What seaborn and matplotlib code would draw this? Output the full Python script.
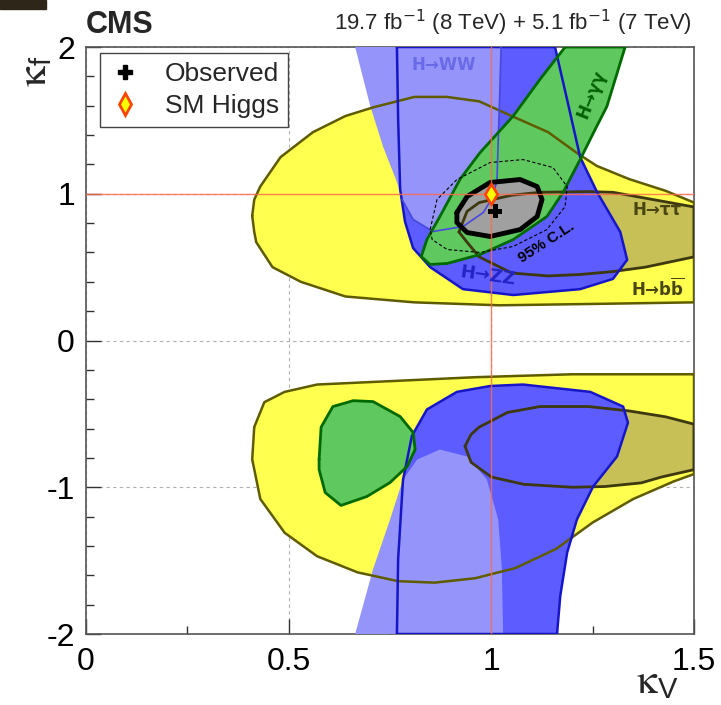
import numpy as np
import matplotlib
matplotlib.use("Agg")
import matplotlib.pyplot as plt
import seaborn as sns
from matplotlib.lines import Line2D
from matplotlib.patches import Rectangle
from matplotlib.ticker import MultipleLocator

# 68% CL regions per channel, (kappa_V, kappa_f) vertices
bb_up_kv = [0.41, 0.415, 0.42, 0.46, 0.53, 0.64, 0.81, 1.02, 1.27, 1.50, 1.50, 1.43, 1.34,
            1.26, 1.21, 1.14, 1.05, 0.97, 0.89, 0.81, 0.71, 0.64, 0.56, 0.48, 0.43, 0.415]
bb_up_kf = [0.85, 0.74, 0.67, 0.50, 0.40, 0.30, 0.26, 0.24, 0.25, 0.26, 0.94, 1.02, 1.10,
            1.19, 1.28, 1.42, 1.53, 1.63, 1.66, 1.66, 1.59, 1.53, 1.42, 1.25, 1.05, 0.96]
bb_dn_kv = [1.50, 1.20, 0.96, 0.57, 0.49, 0.44, 0.415, 0.41, 0.43, 0.49, 0.57, 0.67,
            0.77, 0.86, 0.96, 1.06, 1.16, 1.25, 1.35, 1.45, 1.50]
bb_dn_kf = [-0.23, -0.23, -0.25, -0.30, -0.35, -0.42, -0.59, -0.81, -1.08, -1.31, -1.47,
            -1.58, -1.64, -1.65, -1.62, -1.55, -1.42, -1.24, -1.08, -0.96, -0.91]

tt_up_kv = [0.92, 0.94, 0.97, 1.05, 1.12, 1.24, 1.30, 1.38, 1.50, 1.50, 1.38, 1.30,
            1.22, 1.14, 1.05, 0.97, 0.94]
tt_up_kf = [0.74, 0.88, 0.94, 0.99, 1.01, 1.015, 1.01, 0.97, 0.91, 0.57, 0.50, 0.47,
            0.45, 0.44, 0.46, 0.57, 0.67]
tt_dn_kv = [0.935, 0.95, 0.97, 1.04, 1.12, 1.24, 1.34, 1.43, 1.50, 1.50, 1.42, 1.37,
            1.28, 1.20, 1.08, 1.00, 0.95]
tt_dn_kf = [-0.72, -0.64, -0.59, -0.49, -0.45, -0.45, -0.48, -0.52, -0.57, -0.88, -0.93,
            -0.97, -0.995, -1.00, -0.98, -0.93, -0.83]

zz_up_kv = [0.767, 0.77, 0.775, 0.787, 0.807, 0.849, 0.93, 1.054, 1.219, 1.30, 1.335,
            1.318, 1.261, 1.219, 1.187, 1.157]
zz_up_kf = [2.0, 1.51, 1.03, 0.81, 0.63, 0.50, 0.35, 0.31, 0.35, 0.42, 0.55, 0.74,
            1.01, 1.25, 1.64, 2.0]
zz_dn_kv = [0.767, 0.77, 0.782, 0.804, 0.841, 0.915, 0.997, 1.078, 1.244, 1.325, 1.337,
            1.31, 1.251, 1.211, 1.187, 1.17, 1.162]
zz_dn_kf = [-2.0, -1.49, -0.95, -0.65, -0.47, -0.35, -0.31, -0.30, -0.35, -0.45, -0.56,
            -0.79, -0.995, -1.22, -1.445, -1.74, -2.0]

ww_up_kv = [0.664, 0.701, 0.733, 0.767, 0.78, 0.807, 0.856, 0.93, 0.98, 1.004, 1.014,
            1.017, 1.021, 1.024]
ww_up_kf = [2.0, 1.60, 1.32, 1.08, 0.96, 0.825, 0.743, 0.777, 0.872, 0.98, 1.10, 1.37,
            1.71, 2.0]
ww_dn_kv = [0.664, 0.708, 0.75, 0.782, 0.817, 0.873, 0.94, 0.989, 1.017, 1.026, 1.029]
ww_dn_kf = [-2.0, -1.56, -1.22, -0.947, -0.811, -0.743, -0.79, -0.947, -1.22, -1.56, -2.0]

gg_up_kv = [1.182, 1.12, 1.054, 0.972, 0.923, 0.873, 0.841, 0.827, 0.849, 0.891, 0.972,
            1.054, 1.137, 1.177, 1.219, 1.256, 1.285, 1.33]
gg_up_kf = [2.0, 1.78, 1.53, 1.28, 1.10, 0.845, 0.688, 0.572, 0.518, 0.525, 0.586,
            0.688, 0.845, 1.01, 1.233, 1.438, 1.595, 2.0]
gg_dn_kv = [0.575, 0.58, 0.609, 0.659, 0.708, 0.775, 0.807, 0.812, 0.792, 0.75, 0.693,
            0.629, 0.59, 0.575]
gg_dn_kf = [-0.81, -0.59, -0.45, -0.41, -0.416, -0.518, -0.627, -0.743, -0.859, -0.968,
            -1.063, -1.124, -1.036, -0.879]

# combined fit
comb68_kv = [0.915, 0.94, 0.997, 1.071, 1.113, 1.125, 1.113, 1.071, 0.997, 0.94, 0.915]
comb68_kf = [0.872, 0.981, 1.077, 1.097, 1.049, 0.961, 0.845, 0.756, 0.709, 0.736, 0.804]
comb95_kv = [0.849, 0.866, 0.915, 0.997, 1.078, 1.152, 1.187, 1.182, 1.137, 1.054, 0.972,
             0.891, 0.854]
comb95_kf = [0.756, 0.961, 1.097, 1.213, 1.233, 1.179, 1.049, 0.913, 0.756, 0.641, 0.60,
             0.62, 0.688]

obs_kv, obs_kf = [1.01], [0.88]
sm_kv, sm_kf = [1.0], [1.0]

sns.set_style("ticks")
plt.rcParams["font.family"] = ["Liberation Sans", "DejaVu Sans"]
plt.rcParams["mathtext.fontset"] = "dejavusans"

fig, ax = plt.subplots(figsize=(7.21, 7.05), dpi=100)
fig.subplots_adjust(left=0.1193, right=0.9626, bottom=0.1007, top=0.9333)


def outline(kv, kf, color, lw, z, ls="-"):
    sns.lineplot(x=list(kv) + [kv[0]], y=list(kf) + [kf[0]], sort=False, estimator=None,
                 color=color, lw=lw, ls=ls, zorder=z, ax=ax)


yellow, olive_edge = "#ffff4f", "#5f5c00"
tt_fill, tt_edge = "#c6c056", "#3d3810"
zz_fill, zz_edge = "#5c5cff", "#1616c8"
ww_fill = "#9494fb"
gg_fill, gg_edge = "#5fc85f", "#006a00"

for kv, kf in [(bb_up_kv, bb_up_kf), (bb_dn_kv, bb_dn_kf)]:
    ax.fill(kv, kf, color=yellow, lw=0, zorder=1)
    outline(kv, kf, olive_edge, 1.8, 7)
for kv, kf in [(tt_up_kv, tt_up_kf), (tt_dn_kv, tt_dn_kf)]:
    ax.fill(kv, kf, color=tt_fill, lw=0, zorder=2)
    outline(kv, kf, tt_edge, 2.0, 7)
for kv, kf in [(zz_up_kv, zz_up_kf), (zz_dn_kv, zz_dn_kf)]:
    ax.fill(kv, kf, color=zz_fill, lw=0, zorder=3)
    outline(kv, kf, zz_edge, 1.8, 7)
for kv, kf in [(ww_up_kv, ww_up_kf), (ww_dn_kv, ww_dn_kf)]:
    ax.fill(kv, kf, color=ww_fill, lw=0, zorder=4)
# inner WW boundary is drawn as a thin line
sns.lineplot(x=ww_up_kv[4:], y=ww_up_kf[4:], sort=False, estimator=None,
             color="#4848e0", lw=1.2, zorder=7, ax=ax)
for kv, kf in [(gg_up_kv, gg_up_kf), (gg_dn_kv, gg_dn_kf)]:
    ax.fill(kv, kf, color=gg_fill, lw=0, zorder=5)
    outline(kv, kf, gg_edge, 2.0, 7)

ax.fill(comb68_kv, comb68_kf, color="#a0a0a0", lw=0, zorder=6)
outline(comb68_kv, comb68_kf, "black", 3.5, 8)
outline(comb95_kv, comb95_kf, "black", 0.8, 8, ls=(0, (3, 2)))

# SM reference lines
ax.axvline(sm_kv[0], color="#ff6a4a", lw=1.0, alpha=0.85, zorder=9)
ax.axhline(sm_kf[0], color="#ff6a4a", lw=1.0, alpha=0.85, zorder=9)

sns.scatterplot(x=obs_kv, y=obs_kf, marker="P", s=100, color="black", edgecolor="none",
                zorder=12, ax=ax)
sns.scatterplot(x=sm_kv, y=sm_kf, marker="d", s=110, color="#ffff00", edgecolor="#ff4400",
                linewidth=2, zorder=12, ax=ax)

# channel labels
lab = dict(family="DejaVu Sans", fontsize=12, fontweight="bold", ha="center",
           va="center", zorder=10)
ax.text(0.883, 1.88, "H→WW", color="#6a6ae6", **lab)
ax.text(1.248, 1.68, "H→γγ", color="#006000", rotation=68, **lab)
ax.text(1.41, 0.89, "H→ττ", color="#4a4612", **lab)
ax.text(1.41, 0.35, r"H→b$\mathbf{\overline{b}}$", color="#4a4612", **lab)
ax.text(0.99, 0.44, "H→ZZ", color="#2424c4", rotation=-8,
        **{**lab, "fontsize": 13})
ax.text(1.135, 0.67, "95% C.L.", color="black", fontsize=11, fontweight="bold",
        rotation=33, ha="center", va="center", zorder=10)

ax.set_xlim(0, 1.5)
ax.set_ylim(-2, 2)
ax.set_xticks([0, 0.5, 1, 1.5])
ax.set_xticklabels(["0", "0.5", "1", "1.5"])
ax.set_yticks([-2, -1, 0, 1, 2])
ax.set_yticklabels(["-2", "-1", "0", "1", "2"])
ax.xaxis.set_minor_locator(MultipleLocator(0.25))
ax.yaxis.set_minor_locator(MultipleLocator(0.2))
ax.tick_params(which="both", direction="in", top=False, right=False, colors="#333333",
               labelcolor="black", width=1)
ax.tick_params(which="major", length=11, labelsize=23)
ax.tick_params(which="minor", length=6)
ax.tick_params(axis="x", which="major", pad=9)
ax.tick_params(axis="y", which="major", pad=8)
ax.set_xlabel("")
ax.set_ylabel("")
ax.grid(True, which="major", ls=(0, (3, 3)), color="#b0b0b0", lw=0.8)
ax.set_axisbelow(True)
for sp in ax.spines.values():
    sp.set_color("#555555")
    sp.set_linewidth(1.2)

ax.text(0.975, -0.083, r"$\mathrm{\kappa}_{\mathregular{V}}$", transform=ax.transAxes,
        fontsize=30, math_fontfamily="stix", ha="right", va="center")
ax.text(-0.083, 0.985, r"$\mathrm{\kappa}_{\mathregular{f}}$", transform=ax.transAxes,
        fontsize=30, math_fontfamily="stix", rotation=90, ha="center", va="top")

ax.text(0.0, 1.012, "CMS", transform=ax.transAxes, fontsize=22, fontweight="bold",
        ha="left", va="bottom")
ax.text(0.997, 1.015, r"19.7 fb$^{-1}$ (8 TeV) + 5.1 fb$^{-1}$ (7 TeV)",
        transform=ax.transAxes, fontsize=16, ha="right", va="bottom")

h_obs = Line2D([], [], ls="none", marker="P", color="black", markersize=10)
h_sm = Line2D([], [], ls="none", marker="d", mfc="#ffff00", mec="#ff4400", mew=2,
              markersize=11)
leg = ax.legend([h_obs, h_sm], ["Observed", "SM Higgs"], loc="upper left",
                bbox_to_anchor=(0.023, 0.99), borderaxespad=0, fontsize=19,
                frameon=True, fancybox=False, edgecolor="#444444", framealpha=1,
                handlelength=1.2, handletextpad=0.9, borderpad=0.35, labelspacing=0.3)
leg.get_frame().set_linewidth(1.0)
leg.set_zorder(20)

# dark strip in the top-left corner of the original image
fig.patches.append(Rectangle((0, 1 - 9 / 705), 46 / 721, 9 / 705,
                             transform=fig.transFigure, color="#2e2619", zorder=0))

fig.savefig("out.png", dpi=100)
